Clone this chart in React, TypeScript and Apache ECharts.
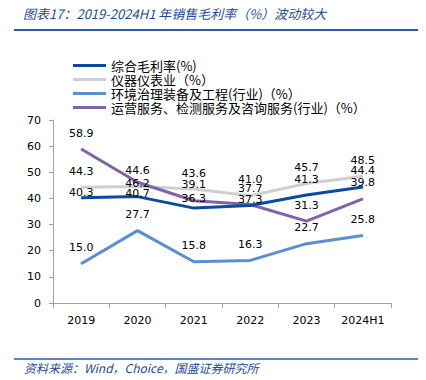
import React, { useEffect, useRef } from "react";
import * as echarts from "echarts";

const categories = ["2019", "2020", "2021", "2022", "2023", "2024H1"];
const seriesNames = [
  "综合毛利率(%)",
  "仪器仪表业（%）",
  "环境治理装备及工程(行业)（%）",
  "运营服务、检测服务及咨询服务(行业)（%）",
];
const overall = [40.3, 40.7, 36.3, 37.3, 41.3, 44.4];
const instrument = [44.3, 44.6, 43.6, 41.0, 45.7, 48.5];
const envEquip = [15.0, 27.7, 15.8, 16.3, 22.7, 25.8];
const services = [58.9, 46.2, 39.1, 37.7, 31.3, 39.8];
const yTicks = { min: 0, max: 70, interval: 10 };

// label vertical nudges (px, downward) to mimic the reference's label placement
const labelNudges = [
  [11, 13, 6, 10, 0, 0],
  [0, 0, 0, 0, 0, 0],
  [0, 0, 0, 0, 0, 0],
  [0, 17, 0, 0, 0, 0],
];

const colors = ["#0B4A9E", "#CFCFCF", "#5B8ED0", "#7F63A8"];
const numFont = "'DejaVu Sans', Verdana, sans-serif";
const cjkFont = "'Noto Sans CJK SC', 'DejaVu Sans', sans-serif";

export default function App() {
  const ref = useRef<HTMLDivElement>(null);
  useEffect(() => {
    if (!ref.current) return;
    const chart = echarts.init(ref.current, null, { renderer: "svg" });
    const datasets = [overall, instrument, envEquip, services];
    const series = datasets.map((d, i) => ({
      name: seriesNames[i],
      type: "line",
      data: d.map((v, j) => ({
        value: v,
        label: { offset: [0, labelNudges[i][j]] },
      })),
      symbol: "circle",
      symbolSize: 1,
      lineStyle: { width: 3, color: colors[i] },
      itemStyle: { color: colors[i] },
      label: {
        show: true,
        position: "top",
        distance: 10,
        color: "#000",
        fontSize: 11,
        fontFamily: numFont,
        formatter: (p: any) => Number(p.value).toFixed(1),
      },
      z: [3, 2, 2, 2][i],
    }));
    chart.setOption({
      animation: false,
      backgroundColor: "#fff",
      color: colors,
      legend: {
        orient: "vertical",
        left: 73,
        top: 59,
        itemWidth: 33,
        itemHeight: 3,
        itemGap: 1,
        icon: "rect",
        padding: 0,
        textStyle: { fontSize: 13, fontFamily: cjkFont, color: "#000", lineHeight: 13 },
        data: seriesNames,
      },
      grid: { left: 53, right: 35, top: 120, bottom: 77 },
      xAxis: {
        type: "category",
        data: categories,
        boundaryGap: true,
        axisLine: { lineStyle: { color: "#A0A0A0", width: 1 } },
        axisTick: { show: true, length: 5, inside: false, lineStyle: { color: "#A0A0A0" } },
        axisLabel: { fontSize: 11, fontFamily: numFont, color: "#000", margin: 12 },
      },
      yAxis: {
        type: "value",
        min: yTicks.min,
        max: yTicks.max,
        interval: yTicks.interval,
        axisLine: { show: true, lineStyle: { color: "#A0A0A0", width: 1 } },
        axisTick: { show: true, length: 4, lineStyle: { color: "#A0A0A0" } },
        splitLine: { show: false },
        axisLabel: { fontSize: 11, fontFamily: numFont, color: "#000", margin: 12 },
      },
      graphic: [
        {
          type: "text",
          left: 23,
          top: 7,
          style: {
            text: "图表17：2019-2024H1 年销售毛利率（%）波动较大",
            fontSize: 13,
            fontStyle: "italic",
            fontFamily: cjkFont,
            fill: "#1F4A9A",
          },
        },
        {
          type: "line",
          shape: { x1: 14, y1: 30, x2: 418, y2: 30 },
          style: { stroke: "#2A5AAE", lineWidth: 2 },
        },
        {
          type: "line",
          shape: { x1: 14, y1: 359, x2: 418, y2: 359 },
          style: { stroke: "#2A5AAE", lineWidth: 1.5 },
        },
        {
          type: "text",
          left: 24,
          top: 361,
          style: {
            text: "资料来源：Wind，Choice，国盛证券研究所",
            fontSize: 12,
            fontStyle: "italic",
            fontFamily: cjkFont,
            fill: "#1F4A9A",
          },
        },
      ],
      series,
    });
    return () => chart.dispose();
  }, []);
  return (
    <div
      ref={ref}
      style={{ position: "absolute", left: 0, top: 0, width: 426, height: 380, background: "#fff" }}
    />
  );
}
